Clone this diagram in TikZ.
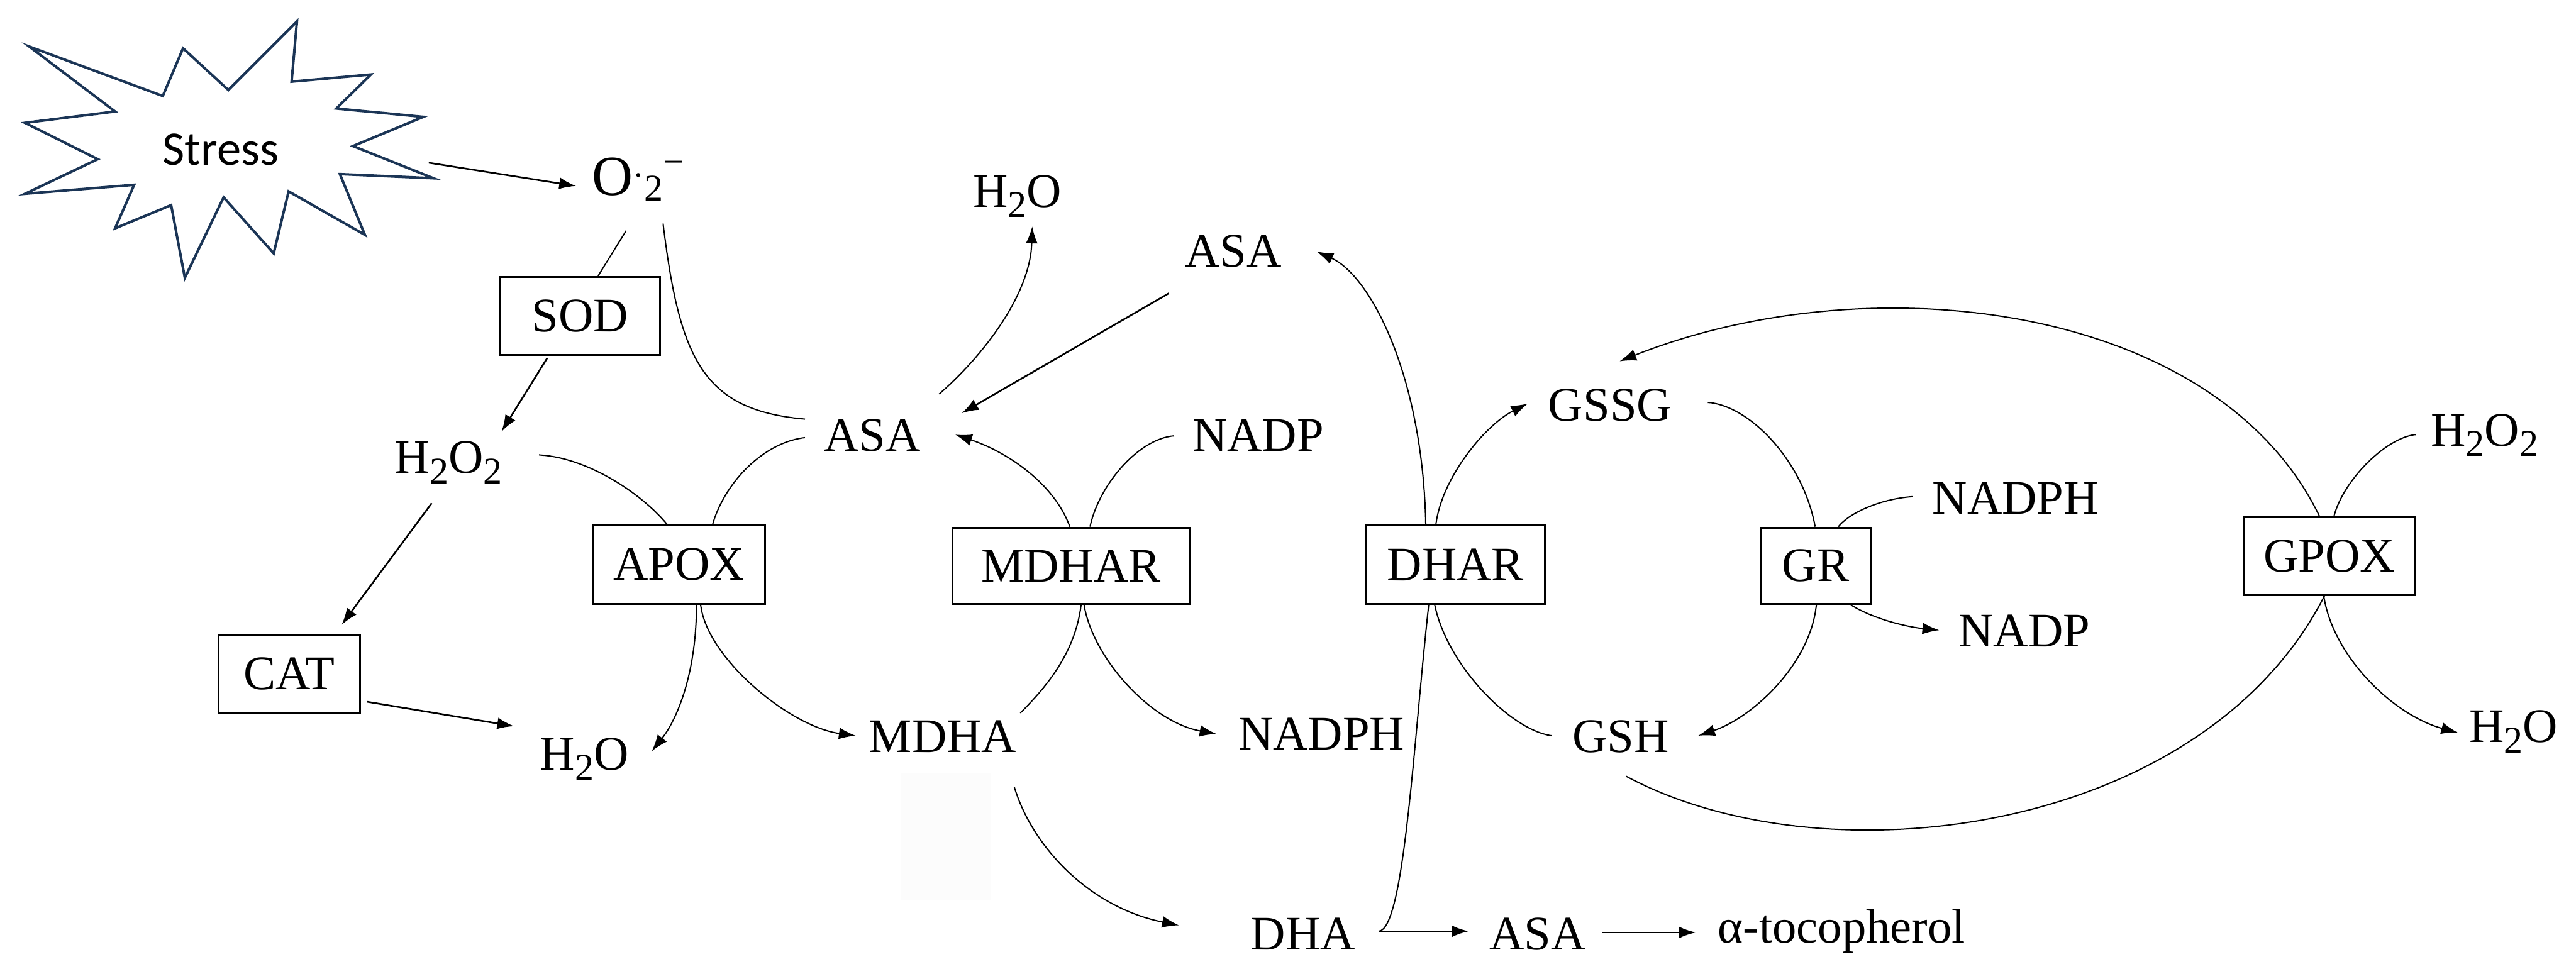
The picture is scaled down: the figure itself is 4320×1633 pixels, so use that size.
\documentclass[tikz,border=0pt]{standalone}
\usepackage{fontspec}
\setmainfont{Liberation Serif}
\newfontfamily\stressfont{Carlito}
\usetikzlibrary{arrows.meta,calc}
\definecolor{starblue}{HTML}{1B3556}
\newcommand\sbs[1]{\raisebox{-5pt}{\fontsize{18}{18}\selectfont #1}}
\begin{document}
\begin{tikzpicture}[x=0.01cm,y=-0.01cm,
  lbl/.style={font=\fontsize{23}{27}\selectfont, inner sep=0pt, anchor=base},
  enz/.style={draw, line width=0.9pt, font=\fontsize{23}{27}\selectfont, inner sep=0pt, minimum height=1.31cm},
  arr/.style={line width=0.8pt, -{Latex[length=8pt,width=5.6pt]}},
  crv/.style={line width=0.6pt},
  crvarr/.style={line width=0.6pt, -{Latex[length=8pt,width=5.6pt]}}]

\fill[white] (0,0) rectangle (4320,1633);
\useasboundingbox (0,0) rectangle (4320,1633);

\fill[black!1.2] (1511,1297) rectangle (1662,1510);

% starburst
\draw[starblue, line width=1.2pt, line join=miter, fill=white]
 (498,36) -- (489,137) -- (622,125) -- (564,182) -- (710,196) -- (592,245) -- (727,299) -- (570,292) -- (612,394) -- (484,321) -- (459,425) -- (375,331) -- (310,466) -- (287,344) -- (193,383) -- (225,310) -- (42,325) -- (164,267) -- (42,206) -- (193,187) -- (49,78) -- (273,161) -- (307,81) -- (383,151) -- cycle;
\node[font=\stressfont\fontsize{23}{27}\selectfont, inner sep=0pt] (stress) at (370,251) {Stress};

% species
\node[lbl, anchor=base west, font=\fontsize{27}{32}\selectfont] (o2) at (992,328) {O\raisebox{4.4pt}{\fontsize{16}{16}\selectfont ·}\raisebox{-2.5pt}{\fontsize{18}{18}\selectfont 2}\raisebox{10pt}{\fontsize{18}{18}\selectfont −}};
\node[lbl] (h2o2a) at (752,794) {H\sbs{2}O\sbs{2}};
\node[lbl] (h2oa) at (980,1291) {H\sbs{2}O};
\node[lbl] (asa1) at (1463,757) {ASA};
\node[lbl] (h2ob) at (1706,347) {H\sbs{2}O};
\node[lbl] (asa2) at (2068,448) {ASA};
\node[lbl] (nadp1) at (2110,757) {NADP};
\node[lbl] (mdha) at (1581,1262) {MDHA};
\node[lbl] (nadph1) at (2216,1258) {NADPH};
\node[lbl] (dha) at (2185,1593) {DHA};
\node[lbl] (asa3) at (2579,1593) {ASA};
\node[lbl, anchor=base west] (atoc) at (2880,1581) {α-tocopherol};
\node[lbl] (gssg) at (2700,706) {GSSG};
\node[lbl] (gsh) at (2718,1262) {GSH};
\node[lbl] (nadph2) at (3380,862) {NADPH};
\node[lbl] (nadp2) at (3395,1085) {NADP};
\node[lbl] (h2o2b) at (4167,748) {H\sbs{2}O\sbs{2}};
\node[lbl] (h2oc) at (4215,1245) {H\sbs{2}O};

% enzymes
\node[enz, minimum width=2.68cm] (sod) at (973,530) {SOD\hspace{0.42cm}};
\node[enz, minimum width=2.37cm] (cat) at (485,1130) {CAT\hspace{0.22cm}};
\node[enz, minimum width=2.87cm] (apox) at (1139,947) {APOX};
\node[enz, minimum width=3.98cm, minimum height=1.28cm] (mdhar) at (1796,949) {MDHAR\hspace{0.32cm}};
\node[enz, minimum width=3.00cm] (dhar) at (2441,947) {DHAR};
\node[enz, minimum width=1.85cm, minimum height=1.28cm] (gr) at (3045,949) {GR};
\node[enz, minimum width=2.87cm, minimum height=1.30cm] (gpox) at (3906,933) {GPOX};

% connectors
\draw[arr] ($(stress)+(349,22)$) -- ($(o2.base west)+(-26,-16)$);
\draw[crv] ($(o2.base west)+(58,59)$) -- ($(sod.north)+(30,0)$);
\draw[arr] ($(sod.south)+(-55,3)$) -- ($(h2o2a.base)+(89,-70)$);
\draw[arr] ($(h2o2a.base)+(-28,50)$) -- ($(cat.north)+(88,-15)$);
\draw[arr] ($(cat.east)+(10,47)$) -- ($(h2oa.base)+(-118,-73)$);
\draw[crv] ($(h2o2a.base)+(152,-31)$) .. controls +(86,5) and +(-38,-47) .. ($(apox.north)+(-20,0)$);
\draw[crv] ($(o2.base west)+(120,47)$) .. controls +(28,230) and +(-170,-15) .. ($(asa1.base)+(-113,-54)$);
\draw[crv] ($(asa1.base)+(-113,-23)$) .. controls +(-70,8) and +(20,-70) .. ($(apox.north)+(56,0)$);
\draw[crvarr] ($(apox.south)+(29,0)$) .. controls +(0,120) and +(40,-50) .. ($(h2oa.base)+(113,-31)$);
\draw[crvarr] ($(apox.south)+(36,0)$) .. controls +(10,90) and +(-110,-15) .. ($(mdha.base)+(-146,-28)$);
\draw[crvarr] ($(asa1.base)+(112,-96)$) .. controls +(80,-70) and +(-3,110) .. ($(h2ob.base)+(25,33)$);
\draw[arr] ($(asa2.base)+(-108,44)$) -- ($(asa1.base)+(150,-64)$);
\draw[crvarr] ($(mdhar.north)+(-2,0)$) .. controls +(-25,-70) and +(90,30) .. ($(asa1.base)+(139,-28)$);
\draw[crv] ($(nadp1.base)+(-141,-26)$) .. controls +(-60,5) and +(15,-70) .. ($(mdhar.north)+(32,0)$);
\draw[crv] ($(mdhar.south)+(17,0)$) .. controls +(-10,80) and +(45,-45) .. ($(mdha.base)+(130,-66)$);
\draw[crvarr] ($(mdhar.south)+(22,0)$) .. controls +(15,90) and +(-110,-20) .. ($(nadph1.base)+(-176,-27)$);
\draw[crvarr] ($(mdha.base)+(120,58)$) .. controls +(30,100) and +(-150,-30) .. ($(dha.base)+(-208,-41)$);
\draw[arr] ($(dha.base)+(127,-31)$) -- ($(asa3.base)+(-116,-31)$);
\draw[arr] ($(asa3.base)+(108,-29)$) -- ($(atoc.base west)+(-36,-17)$);
\draw[crv] ($(dha.base)+(127,-31)$) .. controls +(43,-2) and +(-26,235) .. ($(dhar.south)+(-45,0)$);
\draw[crvarr] ($(dhar.north)+(-50,0)$) .. controls +(-5,-250) and +(90,40) .. ($(asa2.base)+(140,-26)$);
\draw[crvarr] ($(dhar.north)+(-33,0)$) .. controls +(10,-80) and +(-70,35) .. ($(gssg.base)+(-138,-29)$);
\draw[crv] ($(gsh.base)+(-116,-28)$) .. controls +(-70,-10) and +(20,100) .. ($(dhar.south)+(-35,0)$);
\draw[crv] ($(gssg.base)+(164,-31)$) .. controls +(70,5) and +(-20,-110) .. ($(gr.north)+(-1,0)$);
\draw[crv] ($(nadph2.base)+(-172,-29)$) .. controls +(-50,3) and +(20,-25) .. ($(gr.north)+(38,0)$);
\draw[crvarr] ($(gr.south)+(59,0)$) .. controls +(40,25) and +(-50,-5) .. ($(nadp2.base)+(-143,-28)$);
\draw[crvarr] ($(gr.south)+(1,0)$) .. controls +(-10,100) and +(90,-30) .. ($(gsh.base)+(130,-28)$);
\draw[crvarr] ($(gpox.north)+(-16,0)$) .. controls +(-174,-360) and +(418,-166) .. ($(gssg.base)+(16,-100)$);
\draw[crv] ($(h2o2b.base)+(-116,-19)$) .. controls +(-50,5) and +(15,-60) .. ($(gpox.north)+(8,0)$);
\draw[crvarr] ($(gpox.south)+(-9,0)$) .. controls +(15,100) and +(-110,-30) .. ($(h2oc.base)+(-93,-16)$);
\draw[crv] ($(gsh.base)+(9,40)$) .. controls +(334,179) and +(-205,401) .. ($(gpox.south)+(-8,0)$);
\end{tikzpicture}
\end{document}
